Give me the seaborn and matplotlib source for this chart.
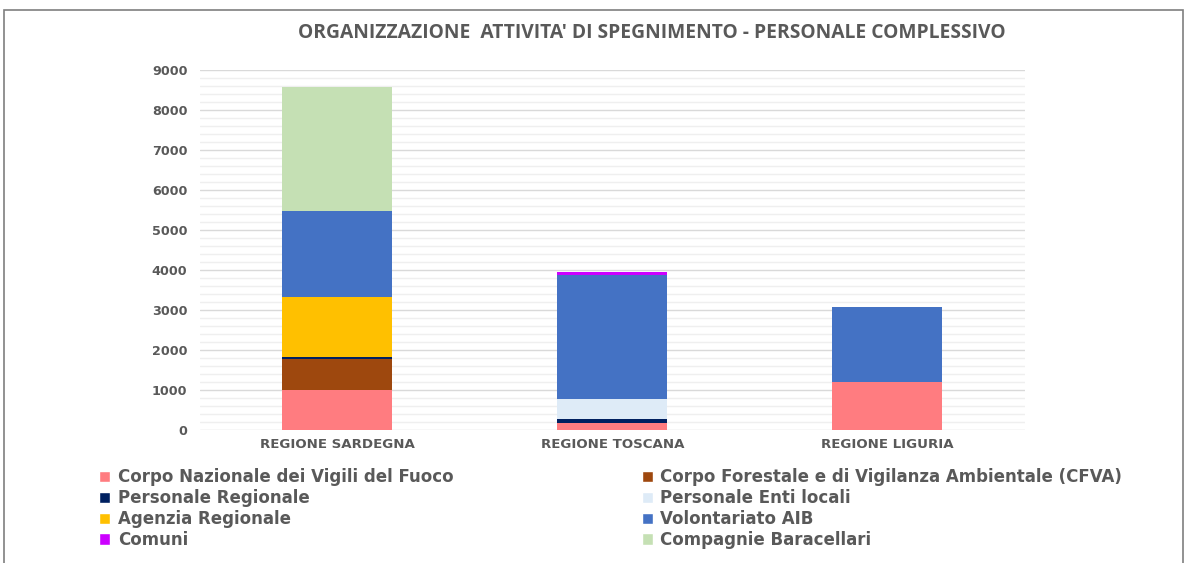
import numpy as np
import pandas as pd
import matplotlib
matplotlib.use("Agg")
import matplotlib.pyplot as plt
import seaborn as sns
from matplotlib.patches import Patch, Rectangle

regions = ["REGIONE SARDEGNA", "REGIONE TOSCANA", "REGIONE LIGURIA"]

# stacked series, bottom to top
vigili_fuoco = [1000, 170, 1190]
cfva = [780, 0, 0]
personale_regionale = [50, 100, 0]
enti_locali = [0, 500, 0]
agenzia_regionale = [1500, 0, 0]
volontariato_aib = [2150, 3100, 1880]
comuni = [0, 90, 0]
compagnie_baracellari = [3100, 0, 0]

series_names = [
    "Corpo Nazionale dei Vigili del Fuoco",
    "Corpo Forestale e di Vigilanza Ambientale (CFVA)",
    "Personale Regionale",
    "Personale Enti locali",
    "Agenzia Regionale",
    "Volontariato AIB",
    "Comuni",
    "Compagnie Baracellari",
]
series_values = [vigili_fuoco, cfva, personale_regionale, enti_locali,
                 agenzia_regionale, volontariato_aib, comuni, compagnie_baracellari]
series_colors = ["#FF7C80", "#9E480E", "#002060", "#DEEBF7",
                 "#FFC000", "#4472C4", "#CC00FF", "#C5E0B4"]

sns.set_theme(style="white")
plt.rcParams["font.family"] = ["DejaVu Sans"]
text_color = "#595959"

fig = plt.figure(figsize=(11.9, 5.63), dpi=100)
ax = fig.add_axes([0.168, 0.2362, 0.693, 0.6395])

bottom = np.zeros(len(regions))
for name, vals, col in zip(series_names, series_values, series_colors):
    df = pd.DataFrame({"region": regions, "value": vals})
    sns.barplot(data=df, x="region", y="value", color=col, width=0.4,
                bottom=bottom, ax=ax, saturation=1, linewidth=0)
    bottom = bottom + np.array(vals)

ax.set_xlim(-0.5, 2.5)
ax.set_ylim(0, 9000)
ax.set_yticks(np.arange(0, 9001, 1000))
ax.set_yticks(np.arange(0, 9001, 200), minor=True)
ax.grid(axis="y", which="major", color="#D9D9D9", linewidth=1)
ax.grid(axis="y", which="minor", color="#EFEFEF", linewidth=1)
ax.set_axisbelow(True)
for s in ax.spines.values():
    s.set_visible(False)
ax.tick_params(axis="both", length=0, labelcolor=text_color)
ax.tick_params(axis="y", pad=9, labelsize=9.2)
ax.tick_params(axis="x", pad=6, labelsize=9.6)
for lbl in ax.get_xticklabels() + ax.get_yticklabels():
    lbl.set_fontweight("bold")
ax.set_xlabel("")
ax.set_ylabel("")

fig.text(0.548, 0.941, "ORGANIZZAZIONE  ATTIVITA' DI SPEGNIMENTO - PERSONALE COMPLESSIVO",
         ha="center", va="center", fontsize=13.9, fontweight="bold",
         color=text_color, family=["Open Sans", "DejaVu Sans"])

# legend: row-major order as in the original
order = [0, 2, 4, 6, 1, 3, 5, 7]
handles = [Patch(facecolor=series_colors[i], label=series_names[i]) for i in order]
leg = fig.legend(handles=handles, ncol=2, loc="upper left",
                 bbox_to_anchor=(0.078, 0.18), frameon=False,
                 prop={"size": 12, "weight": "bold"},
                 handlelength=0.65, handleheight=0.65,
                 handletextpad=0.45, labelspacing=0.17, columnspacing=11.3,
                 borderaxespad=0)
for t in leg.get_texts():
    t.set_color(text_color)

# outer frame
fig.patches.append(Rectangle((4 / 1190, -0.05), 1179 / 1190, 1.05 - 10 / 563,
                             transform=fig.transFigure, fill=False,
                             edgecolor="#7F7F7F", linewidth=1.2))

fig.savefig("out.png", dpi=100)
